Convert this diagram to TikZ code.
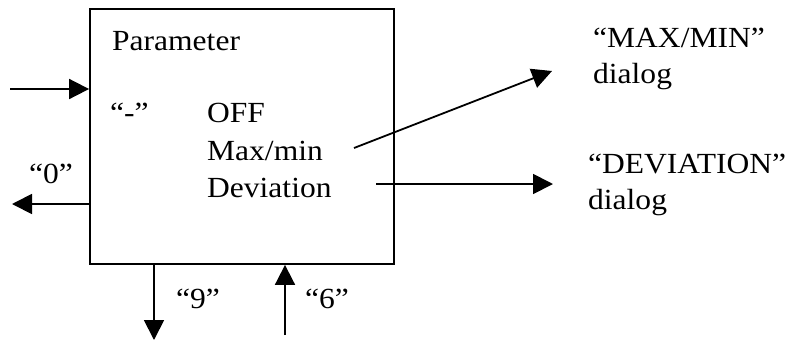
\documentclass[tikz,border=0pt]{standalone}
\usepackage{fontspec}
\setmainfont{Liberation Serif}[FakeStretch=1.08]
\usetikzlibrary{arrows.meta,positioning}

\begin{document}
\begin{tikzpicture}[x=1bp,y=-1bp,
  every node/.style={font=\fontsize{29.3}{37}\selectfont,inner sep=0pt},
  txt/.style={anchor=base west},
  frame/.style={draw,line width=1.8bp,minimum width=304bp,minimum height=255bp},
  arr/.style={-{Triangle[length=20bp,width=20bp]},line width=1.8bp}
]
\useasboundingbox (0,0) rectangle (792,342);
% parameter box
\node[frame] (param) at (242,136.5) {};
\node[txt] (title) at (112,50) {Parameter};
\node[txt] (minus) at (110,122) {``-''};
\node[txt] (off) at (207,122) {OFF};
\node[txt] (maxmin) at (207,160) {Max/min};
\node[txt] (dev) at (207,197) {Deviation};
% keys around the box
\node[txt] (zero) at (29,183) {``0''};
\node[txt] (nine) at (176,308) {``9''};
\node[txt] (six) at (305,308) {``6''};
% target dialogs
\node[txt] (maxdlg) at (593,47) {``MAX/MIN''};
\node[txt] (maxdlg2) at (593,83) {dialog};
\node[txt] (devdlg) at (588,173) {``DEVIATION''};
\node[txt] (devdlg2) at (588,209) {dialog};

\coordinate (inL) at (10,89);
\coordinate (zeroL) at (12,204);
\coordinate (nineB) at (154,340);
\coordinate (sixB) at (285,335);
\coordinate (maxA) at (354,148);
\coordinate (maxB) at (552,71);
\coordinate (devA) at (376,184);
\coordinate (devB) at (553,184);

\draw[arr] (inL) -- (inL -| param.west);
\draw[arr] (zeroL -| param.west) -- (zeroL);
\draw[arr] (nineB |- param.south) -- (nineB);
\draw[arr] (sixB) -- (sixB |- param.south);
\draw[arr] (maxA) -- (maxB);
\draw[arr] (devA) -- (devB);
\end{tikzpicture}
\end{document}
